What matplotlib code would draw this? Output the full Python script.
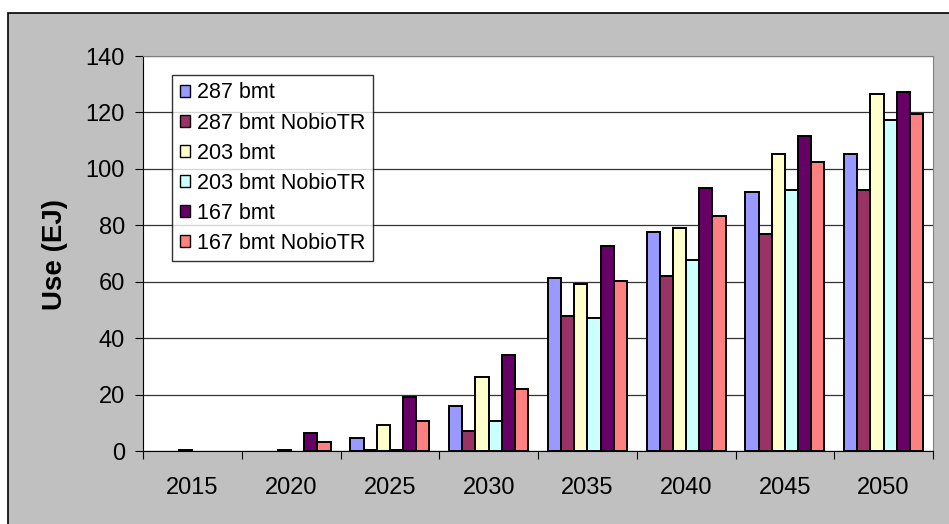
import numpy as np
import matplotlib.pyplot as plt
from matplotlib.patches import Rectangle

plt.rcParams['font.family'] = ['Liberation Sans', 'DejaVu Sans']

years = ['2015', '2020', '2025', '2030', '2035', '2040', '2045', '2050']
labels = ['287 bmt', '287 bmt NobioTR', '203 bmt', '203 bmt NobioTR',
          '167 bmt', '167 bmt NobioTR']
colors = ['#9999FF', '#993366', '#FFFFCC', '#CCFFFF', '#660066', '#FF8080']

# valores (EJ)
s287 = [0, 0, 4.7, 16.1, 61.4, 77.7, 91.9, 105.1]
s287_nobio = [0, 0, 0.5, 7.0, 47.9, 62.2, 77.0, 92.5]
s203 = [0.5, 0.5, 9.1, 26.1, 59.2, 79.2, 105.1, 126.4]
s203_nobio = [0, 0, 0.5, 10.6, 47.2, 67.7, 92.5, 117.2]
s167 = [0, 6.3, 19.1, 33.9, 72.8, 93.3, 111.5, 127.2]
s167_nobio = [0, 3.3, 10.5, 21.8, 60.1, 83.4, 102.5, 119.3]
series = [s287, s287_nobio, s203, s203_nobio, s167, s167_nobio]

fig = plt.figure(figsize=(9.49, 5.24), dpi=100, facecolor='white')
# area cinza do grafico com borda preta
fig.patches.append(Rectangle((8/949, -0.01), 1.0, (524-13)/524 + 0.01,
                             transform=fig.transFigure, facecolor='#C0C0C0',
                             edgecolor='black', lw=1.2, zorder=-5))

ax = fig.add_axes([143/949, 73/524, 790/949, 395/524])
ax.set_zorder(2)
ax.set_facecolor('white')

x = np.arange(len(years))
w = 1 / 7.5
for k, (vals, lab, c) in enumerate(zip(series, labels, colors)):
    # barras com valor zero nao aparecem no original
    lws = [1.4 if v > 0 else 0 for v in vals]
    ax.bar(x + (k - 2.5) * w, vals, width=w, color=c, edgecolor='black',
           linewidth=lws, label=lab, zorder=3)

ax.set_xlim(-0.5, len(years) - 0.5)
ax.set_ylim(0, 140)
ax.set_yticks(np.arange(0, 141, 20))
ax.yaxis.grid(True, color='#333333', lw=0.9, zorder=0)
ax.tick_params(axis='y', labelsize=17, length=6, direction='out', pad=7)

ax.set_xticks(np.arange(-0.5, len(years), 1))
ax.set_xticklabels([])
ax.set_xticks(x, minor=True)
ax.set_xticklabels(years, minor=True)
ax.tick_params(axis='x', which='major', length=6, direction='out')
ax.tick_params(axis='x', which='minor', length=0, labelsize=17, pad=19)

for side in ['top', 'right']:
    ax.spines[side].set_color('#808080')
for side in ['left', 'bottom']:
    ax.spines[side].set_color('black')

t = fig.text(55/949, 0.515, 'Use (EJ)', rotation=90, fontsize=20,
             fontweight='bold', ha='center', va='center')
t.set_zorder(3)

leg = ax.legend(loc='upper left', bbox_to_anchor=(0.0367, 0.952),
                borderaxespad=0, fontsize=15.5, frameon=True, fancybox=False,
                handlelength=0.5, handleheight=0.5, handletextpad=0.3,
                labelspacing=0.42, borderpad=0.35)
leg.get_frame().set_edgecolor('black')
leg.get_frame().set_linewidth(1.0)
for h in leg.legend_handles:
    h.set_linewidth(1.0)

plt.savefig('out.png', dpi=100)
